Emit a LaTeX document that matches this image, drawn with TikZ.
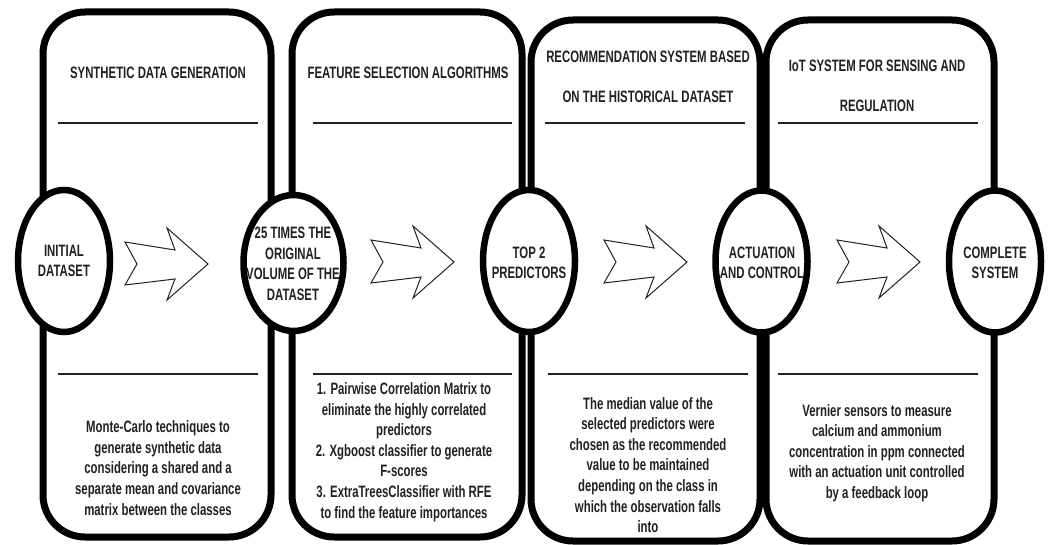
\documentclass[tikz,border=0pt]{standalone}
\usepackage{fontspec}
\usetikzlibrary{shapes.geometric}
\newfontfamily\nar[FakeStretch=0.69]{Liberation Sans}
\definecolor{ink}{gray}{0.13}
\begin{document}
\begin{tikzpicture}[x=1pt,y=-1pt,
  panel/.style={draw=black,line width=7pt,rounded corners=42pt},
  ell/.style={ellipse,draw=black,fill=white,line width=6.5pt,inner sep=0pt},
  etext/.style={align=center,text=ink,font=\nar\bfseries\fontsize{16.5}{20.5}\selectfont,inner sep=0pt},
  ttl/.style={align=center,text=ink,font=\nar\bfseries\fontsize{16.5}{40}\selectfont,inner sep=0pt},
  body/.style={align=center,text=ink,font=\nar\bfseries\fontsize{16.5}{20.6}\selectfont,inner sep=0pt},
  div/.style={draw=ink,line width=1.8pt},
  barrow/.style={draw=ink,line width=1pt,fill=white,line join=miter}]
\useasboundingbox (0,0) rectangle (1051,545);
% panels
\draw[panel] (43,12) rectangle (271,537);
\draw[panel] (292,12) rectangle (522,537);
\draw[panel] (531,20) rectangle (760,541);
\draw[panel] (766,20) rectangle (994,541);
% dividers
\draw[div] (58,123) -- (258,123);
\draw[div] (58,374) -- (258,374);
\draw[div] (313,123) -- (512,123);
\draw[div] (313,374) -- (512,374);
\draw[div] (545,123) -- (745,123);
\draw[div] (548,374) -- (748,374);
\draw[div] (778,123) -- (978,123);
\draw[div] (778,374) -- (978,374);
% titles
\node[ttl] (t1) at (158,73) {SYNTHETIC DATA GENERATION};
\node[ttl] (t2) at (408,73) {FEATURE SELECTION ALGORITHMS};
\node[ttl] (t3) at (648,77) {RECOMMENDATION SYSTEM BASED\\ON THE HISTORICAL DATASET};
\node[ttl] (t4) at (877,86) {IoT SYSTEM FOR SENSING AND\\REGULATION};
% bodies
\node[body] (b1) at (158,468) {Monte-Carlo techniques to\\generate synthetic data\\considering a shared and a\\separate mean and covariance\\matrix between the classes};
\node[body] (b2) at (404,452) {1. Pairwise Correlation Matrix to\\eliminate the highly correlated\\predictors\\2. Xgboost classifier to generate\\F-scores\\3. ExtraTreesClassifier with RFE\\to find the feature importances};
\node[body] (b3) at (648,465) {The median value of the\\selected predictors were\\chosen as the recommended\\value to be maintained\\depending on the class in\\which the observation falls\\into};
\node[body] (b4) at (877,453) {Vernier sensors to measure\\calcium and ammonium\\concentration in ppm connected\\with an actuation unit controlled\\by a feedback loop};
% ellipses
\node[ell,minimum width=92pt,minimum height=142pt] (e1) at (64,261) {};
\node[ell,minimum width=100pt,minimum height=136pt] (e2) at (293.5,263) {};
\node[ell,minimum width=92pt,minimum height=142pt] (e3) at (529,261) {};
\node[ell,minimum width=92pt,minimum height=142pt] (e4) at (761.5,261.5) {};
\node[ell,minimum width=92pt,minimum height=142pt] (e5) at (995,261.5) {};
\node[etext] (l1) at (e1) {INITIAL\\DATASET};
\node[etext] (l2) at (293,264) {25 TIMES THE\\ORIGINAL\\VOLUME OF THE\\DATASET};
\node[etext] (l3) at (529,263) {TOP 2\\PREDICTORS};
\node[etext] (l4) at (762,263) {ACTUATION\\AND CONTROL};
\node[etext] (l5) at (995,263) {COMPLETE\\SYSTEM};
% block arrows
\foreach \x/\y/\n in {125/264/a1,371/262/a2,604/262/a3,837/262/a4}{
  \coordinate (\n) at (\x,\y);
  \draw[barrow,shift={(\n)}] (0,-22) -- (50,-14) -- (42,-36) -- (83,0) -- (42,36) -- (50,15) -- (0,21) -- (12,0) -- cycle;
}
\end{tikzpicture}
\end{document}
